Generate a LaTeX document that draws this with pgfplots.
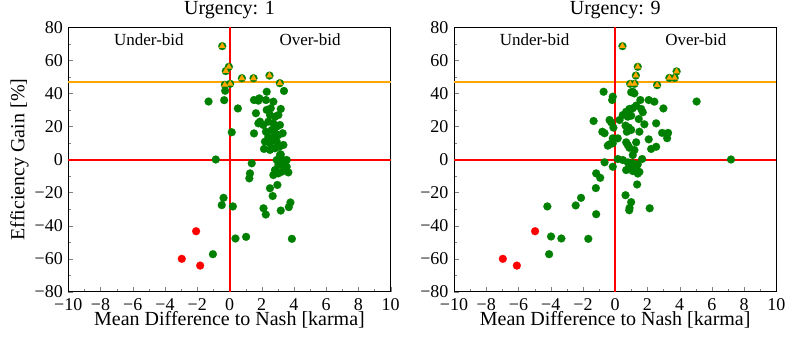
\documentclass[border=0pt]{standalone}
\usepackage{pgfplots}
\pgfplotsset{compat=1.18}
\usepackage{fontspec}
\setmainfont{Liberation Serif}
\definecolor{mgreen}{HTML}{008000}
\definecolor{morange}{HTML}{FFA500}
\definecolor{lred}{HTML}{FF0000}

\pgfplotsset{
  panel/.style={
    scale only axis, width=322.4bp, height=264.4bp,
    xmin=-10, xmax=10, ymin=-80, ymax=80,
    xtick={-10,-8,...,10}, ytick={-80,-60,...,80},
    xticklabels={−10,−8,−6,−4,−2,0,2,4,6,8,10},
    yticklabels={−80,−60,−40,−20,0,20,40,60,80},
    minor x tick num=1, minor y tick num=1,
    tick align=inside, xtick pos=bottom, ytick pos=left,
    major tick length=5bp, minor tick length=2.8bp,
    axis line style={line width=0.8bp, black},
    every tick label/.append style={font=\fontsize{18bp}{21bp}\selectfont},
    xticklabel style={anchor=base, yshift=-19bp},
    yticklabel style={anchor=east, xshift=-2bp},
    title style={at={(axis description cs:0.5,1.025)}, anchor=base, font=\fontsize{20bp}{24bp}\selectfont},
    xlabel style={at={(axis description cs:0.5,-0.126)}, anchor=base, font=\fontsize{20bp}{24bp}\selectfont},
    ylabel style={at={(axis description cs:-0.136,0.5)}, anchor=base, font=\fontsize{20bp}{24bp}\selectfont},
    xlabel={Mean Difference to Nash [karma]},
    clip=false,
  },
  gdot/.style={only marks, color=mgreen, mark=*, mark size=4bp, mark options={fill=mgreen, draw=mgreen, line width=0.1bp}},
  rdot/.style={only marks, color=red, mark=*, mark size=4bp, mark options={fill=red, draw=red, line width=0.1bp}},
  otri/.style={only marks, color=morange, mark=triangle*, mark size=3.6bp, mark options={fill=morange, draw=morange, line width=0.1bp}},
  refline/.style={color=lred, line width=2bp, mark=none},
}

\begin{document}
\begin{tikzpicture}
\path[use as bounding box] (0,0) rectangle (793bp,346bp);

% ---------------- Left: Urgency 1
\begin{axis}[panel, at={(68.3bp,54.3bp)}, anchor=south west,
  title={Urgency: 1}, ylabel={Efficiency Gain [\%]}]
\addplot[gdot] coordinates {
(-0.27,41.6)(-1.30,35.1)(-0.33,35.9)(0.52,30.9)(0.14,16.5)(-0.85,0)(-0.37,-23.2)(-0.48,-27.6)(0.21,-28.4)(0.37,-47.8)(1.03,-46.8)(-1.03,-57.3)
(1.38,-2.3)(1.27,-8.4)(1.23,-11.4)(2.97,-15.4)(2.51,-17.4)(2.68,-22.1)(2.11,-29.5)(2.25,-33.3)(3.18,-30.9)(3.68,-28.8)(3.78,-26.0)(3.87,-48.0)(2.72,-9.4)
(2.31,41.0)(3.38,41.5)(1.52,36.0)(1.85,37.0)(1.79,35.6)(2.26,36.0)(2.72,35.0)(1.64,28.0)(2.31,30.0)(2.56,31.0)(3.18,30.6)(2.51,26.9)(2.82,25.9)(3.03,26.9)
(1.89,22.9)(2.10,20.9)(1.79,21.9)(2.41,22.9)(2.72,21.9)(3.13,20.9)(2.93,19.9)(1.52,15.8)(2.26,16.8)(2.62,17.9)(2.82,15.9)(2.41,13.8)(2.72,12.8)(3.30,15.9)(3.03,14.8)
(2.20,10.8)(2.51,9.8)(2.93,10.8)(3.34,8.8)(2.14,6.4)(2.51,5.8)(2.82,6.8)(3.09,7.7)(3.18,3.1)(2.93,-0.3)(3.34,-0.3)(3.55,-0.3)(3.03,-3.3)(3.34,-3.3)(3.55,-4.4)
(2.82,-6.4)(3.24,-7.4)(3.65,-7.8)(3.03,-8.4)(3.44,-1.3)(3.13,2.7)
(-0.45,68.6)(-0.04,56.1)(-0.23,53.5)(0.77,49.2)(1.49,49.2)(2.48,50.8)(3.12,46.2)(-0.29,45.2)(0.04,45.8)
};
\addplot[otri] coordinates {
(-0.45,68.6)(-0.04,56.1)(-0.23,53.5)(0.77,49.2)(1.49,49.2)(2.48,50.8)(3.12,46.2)(-0.29,45.2)(0.04,45.8)
};
\addplot[rdot] coordinates {(-2.07,-43.4)(-2.96,-60.1)(-1.82,-64.2)};
\addplot[color=morange, line width=2bp, mark=none] coordinates {(-10,47.1)(10,47.1)};
\addplot[refline] coordinates {(-10,0)(10,0)};
\addplot[refline] coordinates {(0,-80)(0,80)};
\node[font=\fontsize{17bp}{20bp}\selectfont] at (axis cs:-5,72.3) {Under-bid};
\node[font=\fontsize{17bp}{20bp}\selectfont] at (axis cs:5,72.3) {Over-bid};
\end{axis}

% ---------------- Right: Urgency 9
\begin{axis}[panel, at={(454bp,54.3bp)}, anchor=south west,
  title={Urgency: 9}]
\addplot[gdot] coordinates {
(-0.72,41.0)(-0.15,38)(-0.19,36)(1.09,41)(1.19,40)(0.99,40.7)(1.56,36)(2.08,36)(2.43,35)(-1.34,23.3)(-0.35,23.9)(-0.25,22.5)(0.27,23.9)
(0.47,26.9)(0.68,28.9)(0.88,30.6)(1.09,31.0)(1.30,32.6)(1.61,30.6)(1.71,28.6)(0.78,25.9)(0.99,26.5)(1.46,24.5)(1.81,21.3)(2.54,21.9)
(-0.11,19.3)(0.64,20.5)(0.85,19.3)(0.72,16.8)(0.99,17.9)(-0.66,15.9)(-0.80,16.8)(0.16,12.8)(-0.15,12.8)(1.50,16.8)(2.08,12.2)
(-0.35,9.2)(-0.46,8.4)(-0.15,9.8)(0.68,10.4)(0.78,8.8)(0.88,7.1)(1.30,10.4)(1.19,5.7)(1.09,2.7)(2.23,6.4)(2.54,7.7)
(-0.66,-1.7)(0.16,0.3)(0.47,-0.3)(0.78,-1.7)(1.09,-2.3)(1.40,-2.9)(0.88,-4.4)(0.68,-6.4)(1.09,-7.0)(1.30,-5.3)(-0.15,-4.4)(-1.18,-8.4)(1.67,0.3)
(5.05,35.1)(2.99,30.9)(2.91,16.1)(3.28,16.1)(3.22,12.9)(7.18,0)(1.40,-8.5)(1.50,-7.5)(-0.93,-11.1)(-1.20,-17.3)(-2.12,-23.2)(-2.45,-27.8)(-4.21,-28.4)
(-1.18,-33.1)(0.64,-21.6)(0.99,-25.8)(0.89,-29.3)(0.87,-30.7)(1.36,-15.1)(2.14,-29.5)(-3.98,-46.6)(-3.34,-47.8)(-1.67,-48.0)(-4.10,-57.3)
(0.45,68.6)(1.40,56.1)(1.28,50.8)(0.93,45.8)(1.20,45.8)(2.60,45.0)(3.36,49.4)(3.69,49.4)(3.81,53.3)
};
\addplot[otri] coordinates {
(0.45,68.6)(1.40,56.1)(1.28,50.8)(0.93,45.8)(1.20,45.8)(2.60,45.0)(3.36,49.4)(3.69,49.4)(3.81,53.3)
};
\addplot[rdot] coordinates {(-4.97,-43.4)(-6.97,-60.1)(-6.10,-64.2)};
\addplot[color=morange, line width=2bp, mark=none] coordinates {(-10,47.0)(10,47.0)};
\addplot[refline] coordinates {(-10,0)(10,0)};
\addplot[refline] coordinates {(0,-80)(0,80)};
\node[font=\fontsize{17bp}{20bp}\selectfont] at (axis cs:-5,72.3) {Under-bid};
\node[font=\fontsize{17bp}{20bp}\selectfont] at (axis cs:5,72.3) {Over-bid};
\end{axis}
\end{tikzpicture}
\end{document}
